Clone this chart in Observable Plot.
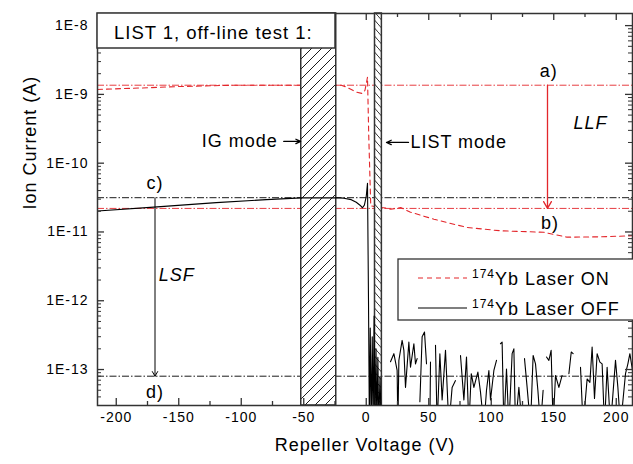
<!DOCTYPE html>
<html><head><meta charset="utf-8">
<script src="https://cdn.jsdelivr.net/npm/d3@7"></script>
<script src="https://cdn.jsdelivr.net/npm/@observablehq/plot@0.6"></script>
<style>
body{margin:0;background:#fff;}
svg text{font-family:"Liberation Sans",Arial,sans-serif;}
</style></head><body><div id="chart"></div>
<script>
// ---- data ----
const onX = [-215, -180, -150, -106, -60, -20, -16, -8, -3, -1, 1, 2, 3.6, 8, 14, 19.6, 27.6, 35, 54.2, 80.8, 107.4, 142, 160.7, 187, 213];
const onY = [1.18e-9, 1.24e-9, 1.3e-9, 1.36e-9, 1.36e-9, 1.36e-9, 1.28e-9, 1.08e-9, 1.03e-9, 1.15e-9, 1.78e-9, 2.5e-10, 2.4e-11, 2.3e-11, 2.25e-11, 2.14e-11, 2.26e-11, 1.95e-11, 1.53e-11, 1.16e-11, 1.04e-11, 9.9e-12, 8.4e-12, 8.5e-12, 8.8e-12];

const offX = [-215, -170, -120, -80, -52, -24, -18, -12, -8, -5, -3, -1.5, 0, 1, 1.8, 2.5, 3.2, 4, 4.8, 5.5, 6.3, 7, 7.8, 8.5, 9.3, 10, 11, 12,
  14, 19.4, 22.1, 24.7, 25.3, 26.1, 28.7, 30.1, 31.4, 34.1, 35.4, 38.1, 39.4, 40.7, 41.8, 42.9, 44.7, 46.6, 48.2, 49.2,
  50.9, 51.4, 53, 55.4, 56.7, 58.9, 60.7, 63.4, 66.1, 68.7, 71.4, 73.5, 75.4, 78.1, 80.2, 82.1, 84, 86.1, 89.3, 91.4,
  94.1, 96.2, 98.1, 99.4, 102.1, 104.2, 105.8, 107.4, 108.7, 110.1, 112.2, 114.1, 116.7, 118.1, 119.4, 122.1, 124.7, 125.6,
  126.6, 128.7, 131.4, 133.5, 135.4, 137.3, 139.4, 141.5, 142.8, 144.2, 146.1, 147.9, 149.5, 151.4, 154.1, 156.7, 159,
  162.1, 164, 165.5, 168, 171.4, 173.5, 176.7, 178.9, 180.7, 182.6, 184.7, 186.9, 188.7, 190.6, 192.7, 195.4, 199.4,
  201.3, 203.4, 207.4, 209.3, 210.9, 213];
const offY = [2.02e-11, 2.3e-11, 2.67e-11, 2.95e-11, 3.13e-11, 3.15e-11, 3.1e-11, 2.95e-11, 2.7e-11, 2.45e-11, 2.25e-11, 2.45e-11, 3.3e-11, 5.1e-11, 1e-12, 1.5e-14, 4e-13, 1.5e-14, 3e-13, 1.5e-14, 6e-13, 1.5e-14, 2e-13, 1.5e-14, 1.5e-13, 1.5e-14, 8e-14, 1.5e-14,
  null, 1.3e-13, 1.7e-13, 9.7e-14, 1.5e-14, 1.36e-13, 2.65e-13, 1.9e-13, 5.5e-14, 2.5e-13, 1.08e-13, 2.37e-13, 1.21e-13, 1.44e-13, null, 3.4e-14, 3.0e-13, 3.5e-13, 1.21e-13, null,
  1.5e-14, 1.28e-13, null, 2.25e-13, 1.5e-14, 1.7e-13, 3.6e-14, 1.9e-13, 1.5e-14, 5.5e-14, 6.9e-14, null, 1.6e-13, 3.6e-14, 1.52e-13, 1.5e-14, 8.7e-14, 5.5e-14, 9.2e-14, 4.7e-14,
  1.5e-14, 5e-14, 9.7e-14, 3.6e-14, 9.7e-14, 1.36e-13, null, 2.37e-13, 2.5e-13, 1.5e-14, 1.02e-13, 1.5e-14, 1.7e-13, 2.0e-13, 1.5e-14, 5.5e-14, 1.5e-14, null,
  1.44e-13, 5.5e-14, 1.5e-14, 1.6e-13, 1.21e-13, 5e-14, 1.5e-14, 5e-14, null, 1.52e-13, 1.36e-13, 1.9e-13, 1.5e-14, 8.2e-14, 5.5e-14, 8.2e-14, null,
  8.7e-14, 1.8e-13, 1.7e-13, null, 1.08e-13, 1.5e-14, 7.3e-14, 6.5e-14, 2.12e-13, 3.8e-14, 1.7e-13, 1.28e-13, 1.21e-13, 1.5e-14, 1.08e-13, 1.5e-14, 1.36e-13,
  5.5e-14, 1.5e-14, 8.7e-14, 1.21e-13, 1.7e-13, 9.7e-14];

const refRed = [1.36e-9, 2.2e-11];
const refBlack = [3.15e-11, 8e-14];
const bandIG = [-52, -24];
const bandLIST = [7, 12.5];

const xTicks = [-200, -150, -100, -50, 0, 50, 100, 150, 200];
const xTickLabels = ["-200", "-150", "-100", "-50", "0", "50", "100", "150", "200"];
const xMinorTicks = [-175, -125, -75, -25, 25, 75, 125, 175];
const yTicks = [1e-13, 1e-12, 1e-11, 1e-10, 1e-9, 1e-8];
const yTickLabels = ["1E-13", "1E-12", "1E-11", "1E-10", "1E-9", "1E-8"];

const letterX = [146, 147, -169, -169];
const letterY = [2.19e-9, 1.32e-11, 5.07e-11, 4.64e-14];
const letterText = ["a)", "b)", "c)", "d)"];

const arrowLLF = {x: 145, y1: 1.36e-9, y2: 2.2e-11};
const arrowLSF = {x: -169, y1: 3.15e-11, y2: 8e-14};

const titleText = "LIST 1, off-line test 1:";
const legendNames = ["Yb Laser ON", "Yb Laser OFF"];
const legendSup = "174";

// ---- layout ----
const W = 633, H = 464, mL = 97, mR = 1, mT = 13, mB = 59;
const plotW = W - mL - mR, plotH = H - mT - mB;
const red = "#e3262b";
const axisColor = "#333";

const yDomain = [3e-14, 1.5e-8];
const yMinor = [];
for (let e = -14; e <= -8; e++) for (let m = 2; m <= 9; m++) {
  const v = m * Math.pow(10, e);
  if (v >= yDomain[0] && v <= yDomain[1]) yMinor.push(v);
}

const onData = onX.map((x, i) => ({x, y: onY[i]}));
const offData = offX.map((x, i) => ({x, y: offY[i] == null ? NaN : offY[i]}));

const plot = Plot.plot({
  width: W, height: H,
  marginLeft: mL, marginRight: mR, marginTop: mT, marginBottom: mB,
  style: {fontFamily: "Liberation Sans, Arial, sans-serif", fontSize: "14px", letterSpacing: "0.07em", color: "#000", background: "#fff", overflow: "visible"},
  x: {domain: [-215, 213], axis: null},
  y: {type: "log", domain: yDomain, axis: null},
  marks: [
    Plot.ruleY(refRed, {stroke: red, strokeWidth: 0.9, strokeDasharray: "7,2,1.5,2"}),
    Plot.ruleY(refBlack, {stroke: "#000", strokeWidth: 0.9, strokeDasharray: "7,2,1.5,2"}),
    Plot.line(onData, {x: "x", y: "y", stroke: red, strokeWidth: 1.1, strokeDasharray: "5,4", clip: true}),
    Plot.rect([bandIG], {x1: d => d[0], x2: d => d[1], fill: "url(#hatchIG)", stroke: axisColor, strokeWidth: 1.5}),
    Plot.rect([bandLIST], {x1: d => d[0], x2: d => d[1], fill: "url(#hatchLIST)", stroke: axisColor, strokeWidth: 1.5}),
    Plot.line(offData, {x: "x", y: "y", stroke: "#000", strokeWidth: 1.1, clip: true}),
    // arrows
    Plot.arrow([arrowLLF], {x: "x", y1: "y1", y2: "y2", stroke: red, strokeWidth: 1.3, headLength: 9}),
    Plot.arrow([arrowLSF], {x: "x", y1: "y1", y2: "y2", stroke: "#000", strokeWidth: 1, headLength: 8}),
    Plot.arrow([{x1: -66, x2: -52.5, y: 2.07e-10}], {x1: "x1", x2: "x2", y: "y", stroke: "#000", strokeWidth: 1.3, headLength: 6, headAngle: 50}),
    Plot.arrow([{x1: 33.8, x2: 16.2, y: 2.0e-10}], {x1: "x1", x2: "x2", y: "y", stroke: "#000", strokeWidth: 1.3, headLength: 6, headAngle: 50}),
    // annotation text
    Plot.text(letterText, {x: (d, i) => letterX[i], y: (d, i) => letterY[i], text: d => d, fontSize: 18}),
    Plot.text(["LLF"], {x: 179.4, y: 3.78e-10, text: d => d, fontSize: 18, fontStyle: "italic"}),
    Plot.text(["LSF"], {x: -166, y: 2.33e-12, text: d => d, fontSize: 18, fontStyle: "italic", textAnchor: "start"}),
    Plot.text(["IG mode"], {x: -70.8, y: 2.07e-10, text: d => d, fontSize: 18, textAnchor: "end"}),
    Plot.text(["LIST mode"], {x: 35.4, y: 2.0e-10, text: d => d, fontSize: 18, textAnchor: "start"}),
    // ticks (inward)
    Plot.ruleX(xTicks, {insetTop: plotH - 7, stroke: axisColor, strokeWidth: 1.3}),
    Plot.ruleX(xMinorTicks, {insetTop: plotH - 4, stroke: axisColor, strokeWidth: 1.3}),
    Plot.ruleX(xTicks, {insetBottom: plotH - 7, stroke: axisColor, strokeWidth: 1.3}),
    Plot.ruleX(xMinorTicks, {insetBottom: plotH - 4, stroke: axisColor, strokeWidth: 1.3}),
    Plot.ruleY(yTicks, {insetRight: plotW - 7, stroke: axisColor, strokeWidth: 1.3}),
    Plot.ruleY(yMinor, {insetRight: plotW - 4, stroke: axisColor, strokeWidth: 1}),
    Plot.ruleY(yTicks, {insetLeft: plotW - 7, stroke: axisColor, strokeWidth: 1.3}),
    Plot.ruleY(yMinor, {insetLeft: plotW - 4, stroke: axisColor, strokeWidth: 1}),
    // tick labels
    Plot.text(xTicks, {x: d => d, text: (d, i) => xTickLabels[i], frameAnchor: "bottom", dy: 16, fontSize: 14}),
    Plot.text(yTicks, {y: d => d, text: (d, i) => yTickLabels[i], frameAnchor: "left", textAnchor: "end", dx: -9, fontSize: 14}),
    // axis titles
    Plot.text(["Repeller Voltage (V)"], {text: d => d, frameAnchor: "bottom", dy: 45, fontSize: 18}),
    Plot.text(["Ion Current (A)"], {text: d => d, frameAnchor: "left", dx: -67, rotate: -90, fontSize: 18}),
    Plot.frame({stroke: axisColor, strokeWidth: 1.5})
  ]
});

document.getElementById("chart").appendChild(plot);

// patterns
const svg = d3.select(plot);
const defs = svg.insert("defs", ":first-child");
const pIG = defs.append("pattern").attr("id", "hatchIG").attr("patternUnits", "userSpaceOnUse").attr("width", 10).attr("height", 10);
pIG.append("rect").attr("width", 10).attr("height", 10).attr("fill", "#fff");
pIG.append("path").attr("d", "M0,10L10,0M-1,1L1,-1M9,11L11,9").attr("stroke", "#000").attr("stroke-width", 0.9);
const pL = defs.append("pattern").attr("id", "hatchLIST").attr("patternUnits", "userSpaceOnUse").attr("width", 7).attr("height", 8);
pL.append("rect").attr("width", 7).attr("height", 8).attr("fill", "#fff");
pL.append("path").attr("d", "M0,0L7,8M-1,7L1,9.3M6,-1.2L8,1").attr("stroke", "#000").attr("stroke-width", 0.8);

// title box
const tb = svg.append("g").attr("text-anchor", "start");
tb.append("rect").attr("x", mL).attr("y", mT).attr("width", 238).attr("height", 35)
  .attr("fill", "#fff").attr("stroke", axisColor).attr("stroke-width", 1.5);
tb.append("text").attr("x", 114).attr("y", 38.5).attr("text-anchor", "start").attr("font-size", 18.5).attr("fill", "#000").text(titleText);

// legend
const lg = svg.append("g").attr("text-anchor", "start");
lg.append("rect").attr("x", 398).attr("y", 259).attr("width", 236).attr("height", 61)
  .attr("fill", "#fff").attr("stroke", axisColor).attr("stroke-width", 1.3);
const rows = [{y: 278, stroke: red, dash: "5,4"}, {y: 308, stroke: "#000", dash: null}];
rows.forEach((r, i) => {
  lg.append("line").attr("x1", 418).attr("x2", 467).attr("y1", r.y).attr("y2", r.y)
    .attr("stroke", r.stroke).attr("stroke-width", 1.1).attr("stroke-dasharray", r.dash);
  const t = lg.append("text").attr("x", 472).attr("y", r.y + 7).attr("text-anchor", "start").attr("font-size", 18).attr("fill", "#000");
  t.append("tspan").attr("font-size", 12).attr("dy", -7).text(legendSup);
  t.append("tspan").attr("dy", 7).text(legendNames[i]);
});
</script></body></html>
